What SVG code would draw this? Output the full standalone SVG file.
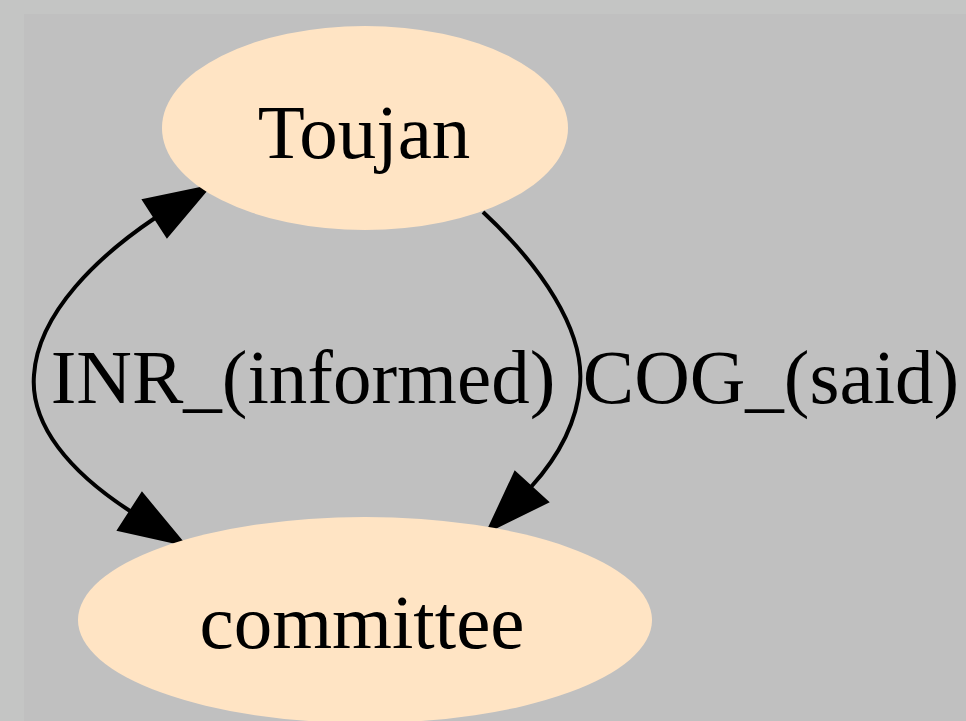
<svg xmlns="http://www.w3.org/2000/svg" width="966" height="721" viewBox="0 0 966 721">
<style>
.node ellipse{fill:#ffe4c4;stroke:none}
.lbl{font-family:"Liberation Serif","Times New Roman",serif;font-size:77px;fill:#000;text-anchor:middle}
.edge path{fill:none;stroke:#000;stroke-width:4}
.edge polygon{fill:#000;stroke:#000;stroke-width:2;stroke-linejoin:miter}
</style>
<rect x="0" y="0" width="966" height="721" fill="#c4c5c4"/>
<rect x="24" y="14" width="942" height="707" fill="#c0c0c0"/>
<g id="connectors">
<g class="edge" id="edge_inr">
<path d="M155,218 C100,255 38,312 34,375 C30,425 70,472 130,511"/>
<polygon points="210,186 143,200 167,237"/>
<polygon points="185,545 118,530 142,493"/>
<text class="lbl" x="303" y="403">INR_(informed)</text>
</g>
<g class="edge" id="edge_cog">
<path d="M483,212 C540,265 585,330 580,385 C577,420 560,455 531,487"/>
<polygon points="487,532 515,472 548,502"/>
<text class="lbl" x="771" y="403">COG_(said)</text>
</g>
</g>
<g class="node" id="node_toujan">
<ellipse cx="365" cy="128" rx="203" ry="102"/>
<text class="lbl" x="364" y="158">Toujan</text>
</g>
<g class="node" id="node_committee">
<ellipse cx="365" cy="620" rx="287" ry="103"/>
<text class="lbl" x="362" y="648">committee</text>
</g>
</svg>
